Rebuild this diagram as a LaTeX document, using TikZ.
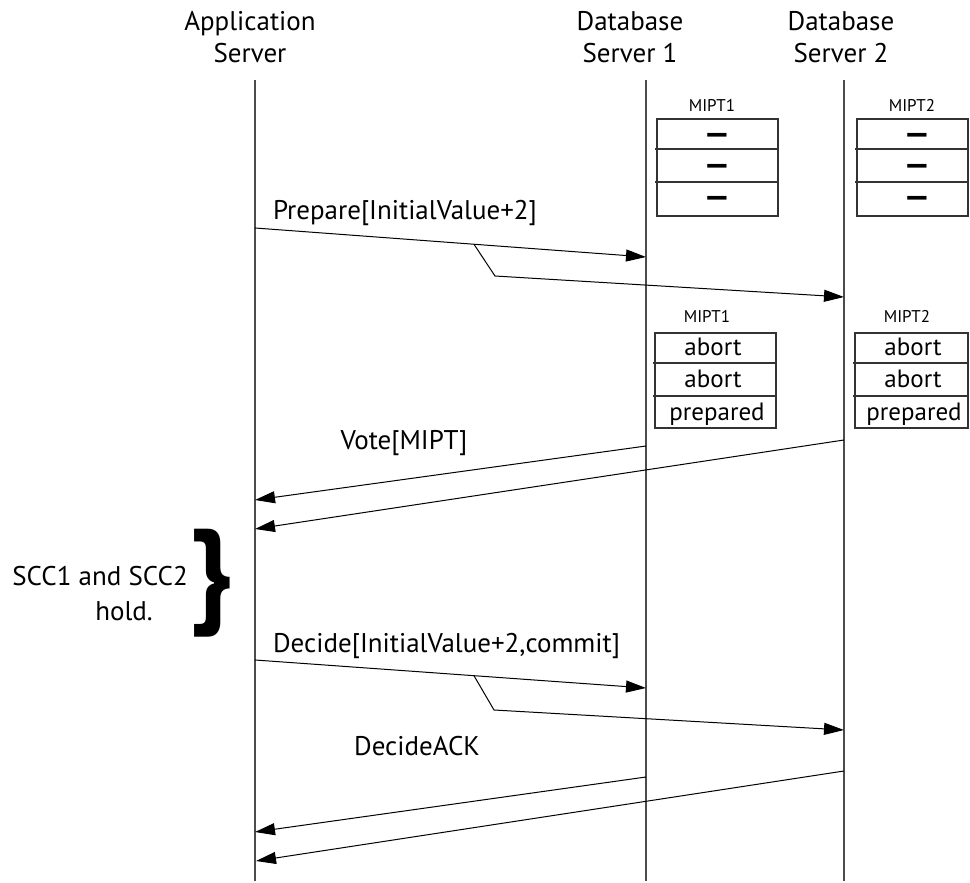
\documentclass[tikz,border=0pt]{standalone}
\usepackage{fontspec}
\setmainfont{PT Sans}
\usetikzlibrary{arrows.meta,calc}

\begin{document}
\begin{tikzpicture}[x=0.5pt, y=-0.5pt, >={Triangle[length=10pt,width=6pt]},
        font=\fontsize{13.5}{16}\selectfont,
        life/.style={line width=0.7pt, draw=black!70},
        msg/.style={line width=0.5pt, ->},
        tbl/.style={line width=0.6pt, draw=black!80},
        small/.style={font=\fontsize{8.5}{10}\selectfont},
        cell/.style={font=\fontsize{12.5}{14}\selectfont},
        emptycell/.style={font=\fontsize{16}{16}\bfseries}]
        \useasboundingbox (0,0) rectangle (970,883);
        % Tiêu đề
        \node[align=center] (app) at (250,37) {Application\\Server};
        \node[align=center] (db1) at (630,37) {Database\\Server 1};
        \node[align=center] (db2) at (841,37) {Database\\Server 2};
        % Các đường thời gian
        \coordinate (appT) at (255,80);  \coordinate (appB) at (255,881);
        \coordinate (db1T) at (646,80);  \coordinate (db1B) at (646,881);
        \coordinate (db2T) at (844,80);  \coordinate (db2B) at (844,881);
        \draw[life] (appT) -- (appB);
        \draw[life] (db1T) -- (db1B);
        \draw[life] (db2T) -- (db2B);
        % Bảng MIPT ban đầu
        \node[small, anchor=base] (t1) at (712,112) {MIPT1};
        \draw[tbl] (657,119) rectangle (778,216);
        \draw[tbl] (655,149) -- (778,149) (655,182) -- (778,182);
        \node[emptycell] (c11) at (717,139) {—};
        \node[emptycell] (c12) at (717,170) {—};
        \node[emptycell] (c13) at (717,202) {—};
        \node[small, anchor=base] (t2) at (912,112) {MIPT2};
        \draw[tbl] (857,119) rectangle (968,216);
        \draw[tbl] (855,149) -- (968,149) (855,182) -- (968,182);
        \node[emptycell] (c21) at (917,139) {—};
        \node[emptycell] (c22) at (917,170) {—};
        \node[emptycell] (c23) at (917,202) {—};
        % Thông điệp Prepare
        \node[anchor=base west] (prep) at (266,220) {Prepare[InitialValue+2]};
        \coordinate (pA) at (255,228);
        \coordinate (p1) at (646,257);
        \coordinate (pS) at ($(pA)!0.56!(p1)$);
        \coordinate (pK) at (495,276);
        \coordinate (p2) at (844,297);
        \draw[msg] (pA) -- (p1);
        \draw[msg] (pS) -- (pK) -- (p2);
        % Bảng MIPT sau khi chuẩn bị
        \node[small, anchor=base] (u1) at (707,322) {MIPT1};
        \draw[tbl] (655,333) rectangle (776,428);
        \draw[tbl] (653,363) -- (776,363) (653,396) -- (776,396);
        \node[cell, anchor=base] (e11) at (713,355) {abort};
        \node[cell, anchor=base] (e12) at (713,387) {abort};
        \node[cell, anchor=base] (e13) at (717,420) {prepared};
        \node[small, anchor=base] (u2) at (907,322) {MIPT2};
        \draw[tbl] (855,333) rectangle (968,428);
        \draw[tbl] (853,363) -- (968,363) (853,396) -- (968,396);
        \node[cell, anchor=base] (e21) at (913,355) {abort};
        \node[cell, anchor=base] (e22) at (913,387) {abort};
        \node[cell, anchor=base] (e23) at (914,420) {prepared};
        % Thông điệp Vote
        \node[anchor=base] (vote) at (404,449) {Vote[MIPT]};
        \coordinate (v1) at (646,446);  \coordinate (vA1) at (255,500);
        \coordinate (v2) at (844,440);  \coordinate (vA2) at (255,529);
        \draw[msg] (v1) -- (vA1);
        \draw[msg] (v2) -- (vA2);
        % Điều kiện SCC
        \node[anchor=base] (scc) at (100,585) {SCC1 and SCC2};
        \node[anchor=base] (hold) at (124,620) {hold.};
        \node[font=\fontsize{58}{58}\bfseries] (brace) at (212,583) {\}};
        % Thông điệp Decide
        \node[anchor=base west] (dec) at (266,652) {Decide[InitialValue+2,commit]};
        \coordinate (dA) at (255,660);
        \coordinate (d1) at (646,688);
        \coordinate (dS) at ($(dA)!0.56!(d1)$);
        \coordinate (dK) at (494,710);
        \coordinate (d2) at (844,730);
        \draw[msg] (dA) -- (d1);
        \draw[msg] (dS) -- (dK) -- (d2);
        % Thông điệp DecideACK
        \node[anchor=base] (ack) at (417,755) {DecideACK};
        \coordinate (k1) at (646,777);  \coordinate (kA1) at (255,832);
        \coordinate (k2) at (844,771);  \coordinate (kA2) at (256,861);
        \draw[msg] (k1) -- (kA1);
        \draw[msg] (k2) -- (kA2);
\end{tikzpicture}
\end{document}
